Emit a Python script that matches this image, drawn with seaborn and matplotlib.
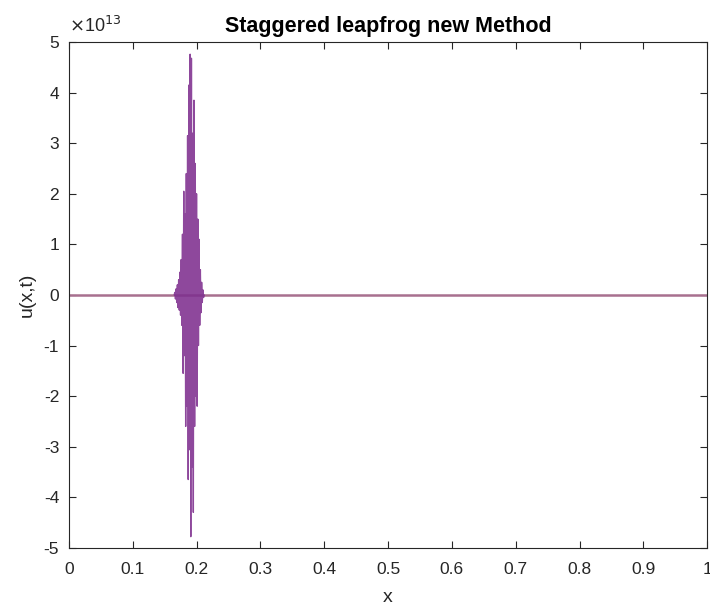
import numpy as np
import pandas as pd
import matplotlib
matplotlib.use("Agg")
import matplotlib.pyplot as plt
import seaborn as sns

# ---- data (u values in units of 1e13) ----
burst_x = [0.165, 0.166, 0.167, 0.168, 0.169, 0.170, 0.171, 0.172, 0.173, 0.174, 0.175,
           0.176, 0.177, 0.178, 0.179, 0.180, 0.181, 0.182, 0.183, 0.184, 0.185,
           0.186, 0.187, 0.188, 0.189, 0.190, 0.191, 0.192, 0.193, 0.194, 0.195,
           0.196, 0.197, 0.198, 0.199, 0.200, 0.201, 0.202, 0.203, 0.204, 0.205,
           0.206, 0.207, 0.208, 0.209, 0.210, 0.211, 0.212]
burst_u = [0.0, 0.05, -0.08, 0.12, -0.15, 0.2, -0.25, 0.3, -0.3, 0.45, -0.4,
           0.7, -0.6, 1.2, -1.55, 2.05, -1.2, 1.6, -2.6, 2.4, -2.2,
           3.15, -3.65, 4.15, -3.06, 4.76, -4.78, 4.68, -3.4, 3.2, -4.3,
           3.85, -2.6, 2.6, -2.0, 2.0, -2.2, 1.5, -1.0, 1.1, -0.6,
           0.5, -0.35, 0.25, -0.15, 0.1, -0.05, 0.0]
edge_x = [0.0, 1.0]
edge_u = [0.0, 0.0]
scale = 1e13

x_ticks = [0, 0.1, 0.2, 0.3, 0.4, 0.5, 0.6, 0.7, 0.8, 0.9, 1]
x_labels = ["0", "0.1", "0.2", "0.3", "0.4", "0.5", "0.6", "0.7", "0.8", "0.9", "1"]
y_ticks = [-5, -4, -3, -2, -1, 0, 1, 2, 3, 4, 5]
y_labels = ["-5", "-4", "-3", "-2", "-1", "0", "1", "2", "3", "4", "5"]

sns.set_theme(style="ticks")
plt.rcParams['font.family'] = ['Liberation Sans', 'DejaVu Sans']
plt.rcParams['axes.unicode_minus'] = False

df = pd.DataFrame({"x": burst_x, "u": np.array(burst_u) * scale})
df0 = pd.DataFrame({"x": edge_x, "u": np.array(edge_u) * scale})

fig = plt.figure(figsize=(7.1, 6.1), dpi=100)
ax = fig.add_axes([0.097, 0.102, 0.899, 0.829])

sns.lineplot(data=df0, x="x", y="u", sort=False, estimator=None, ax=ax,
             color="#A8708F", linewidth=1.8)
sns.lineplot(data=df, x="x", y="u", sort=False, estimator=None, ax=ax,
             color="#7E2F8E", linewidth=1.0, alpha=0.88)

ax.set_xlim(0, 1)
ax.set_ylim(-5 * scale, 5 * scale)
ax.set_xticks(x_ticks)
ax.set_xticklabels(x_labels)
ax.set_yticks([v * scale for v in y_ticks])
ax.set_yticklabels(y_labels)
ax.text(0.0, 1.012, r"$\times$10$^{13}$", transform=ax.transAxes, fontsize=13,
        color="#262626", ha="left", va="bottom")

for s in ax.spines.values():
    s.set_visible(True)
    s.set_color("#262626")
    s.set_linewidth(0.8)
ax.tick_params(direction="in", top=True, right=True, length=5, width=0.8,
               colors="#262626", labelsize=12.5, labelcolor="#262626")
ax.tick_params(axis="x", pad=10)
ax.tick_params(axis="y", pad=7)

ax.set_title("Staggered leapfrog new Method", fontsize=15.5, fontweight="bold",
             color="black", pad=7)
ax.set_xlabel("x", fontsize=14, color="#262626", labelpad=9)
ax.set_ylabel("u(x,t)", fontsize=14, color="#262626", labelpad=6)

fig.savefig("out.png", dpi=100, facecolor="white")
